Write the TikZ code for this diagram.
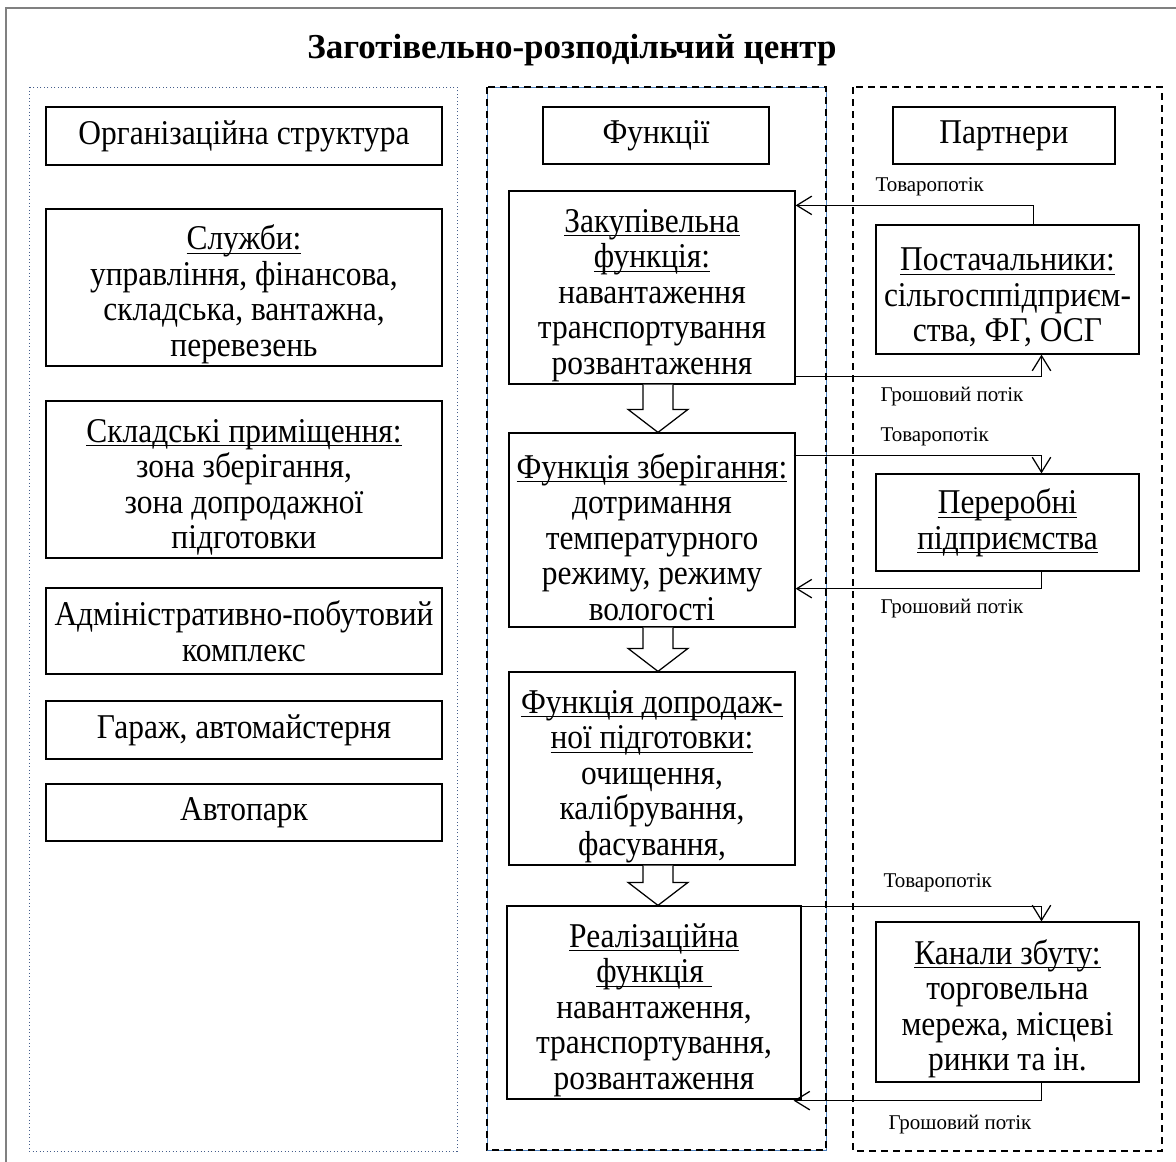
\documentclass[tikz,border=0pt]{standalone}
\usepackage{fontspec}
\setmainfont{Liberation Serif}
\newfontfamily\boxfont{Liberation Serif}[FakeStretch=0.905]
\usetikzlibrary{arrows.meta,calc}
\def\px{0.4pt}
\newcommand\ul[1]{\underline{\vphantom{A}\smash{#1}}}
\newcommand\tstrut{\rule{0pt}{15.5pt}}
\tikzset{
  box/.style={draw, line width=0.5pt, inner sep=0pt, align=center,
    font=\boxfont\fontsize{13.9}{14.2}\selectfont},
  flowlbl/.style={anchor=west, inner sep=0pt, font=\fontsize{8.4}{9}\selectfont},
  hollow/.style={draw, line width=0.5pt, fill=white, line join=miter},
  flow/.style={->, line width=0.5pt},
}
\begin{document}
\begin{tikzpicture}[x=0.4pt, y=-0.4pt,
    >={Straight Barb[length=6pt,width=7.4pt,line width=0.5pt]}]
  \useasboundingbox (0,0) rectangle (1176,1162);
  % рамка
  \draw[gray, line width=0.8pt] (6,1170) -- (6,8) -- (1180,8);
  \node[font=\fontsize{14}{16}\selectfont\bfseries] (title) at (572,50) {Заготівельно-розподільчий центр};
  % три колонки
  \draw[densely dotted, color={rgb,255:red,70;green,95;blue,140}, line width=0.4pt] (29,87) rectangle (457,1151);
  \draw[color={rgb,255:red,79;green,129;blue,189}, line width=0.4pt] (487,87) rectangle (826,1150);
  \draw[dash pattern=on 2.8pt off 2pt, line width=0.8pt] (487,87) rectangle (826,1150);
  \draw[dash pattern=on 2.8pt off 2pt, line width=0.7pt] (853,87) rectangle (1162,1151);

  % організаційна структура
  \node[box, minimum width=396*\px, minimum height=58*\px] (org) at (244,136) {Організаційна структура};
  \node[box, minimum width=396*\px, minimum height=157*\px] (sluzh) at (244,287.5)
    {\tstrut\ul{Служби:}\\управління, фінансова,\\складська, вантажна,\\перевезень};
  \node[box, minimum width=396*\px, minimum height=157*\px] (sklad) at (244,479.5)
    {\tstrut\ul{Складські приміщення:}\\зона зберігання,\\зона допродажної\\підготовки};
  \node[box, minimum width=396*\px, minimum height=86*\px] (admin) at (244,631)
    {Адміністративно-побутовий\\комплекс};
  \node[box, minimum width=396*\px, minimum height=58*\px] (garazh) at (244,730) {Гараж, автомайстерня};
  \node[box, minimum width=396*\px, minimum height=57*\px] (avto) at (244,812.5) {Автопарк};

  % функції
  \node[box, minimum width=226*\px, minimum height=57*\px] (funk) at (656,135.5) {Функції};
  \node[box, minimum width=286*\px, minimum height=193*\px] (zak) at (652,287.5)
    {\tstrut\ul{Закупівельна}\\\ul{функція:}\\навантаження\\транспортування\\розвантаження};
  \node[box, minimum width=286*\px, minimum height=194*\px] (zber) at (652,530)
    {\tstrut\ul{Функція зберігання:}\\дотримання\\температурного\\режиму, режиму\\вологості};
  \node[box, minimum width=286*\px, minimum height=193*\px] (dopr) at (652,768.5)
    {\tstrut\ul{Функція допродаж-}\\\ul{ної підготовки:}\\очищення,\\калібрування,\\фасування,};
  \node[box, minimum width=294*\px, minimum height=193*\px] (real) at (654,1002.5)
    {\tstrut\ul{Реалізаційна}\\\ul{функція\ }\\навантаження,\\транспортування,\\розвантаження};
  \foreach \a/\b in {zak/zber,zber/dopr,dopr/real}{
    \coordinate (s) at ($(\a.south)+(6,0)$);
    \coordinate (t) at (s |- \b.north);
    \draw[hollow] ($(s)+(-15,0)$) -- ($(t)+(-15,-23)$) -- ($(t)+(-30,-23)$) -- (t)
      -- ($(t)+(30,-23)$) -- ($(t)+(15,-23)$) -- ($(s)+(15,0)$);
  }

  % партнери
  \node[box, minimum width=222*\px, minimum height=57*\px] (partn) at (1004,135.5) {Партнери};
  \node[box, minimum width=263*\px, minimum height=129*\px] (post) at (1007.5,289.5)
    {\tstrut\ul{Постачальники:}\\сільгосппідприєм-\\ства, ФГ, ОСГ};
  \node[box, minimum width=263*\px, minimum height=97*\px] (perer) at (1007.5,522.5)
    {\ul{Переробні}\\\ul{підприємства}};
  \node[box, minimum width=263*\px, minimum height=160*\px] (kanal) at (1007.5,1002)
    {\tstrut\ul{Канали збуту:}\\торговельна\\мережа, місцеві\\ринки та ін.};

  % потоки
  \draw[flow] ($(post.north)+(26,0)$) |- ($(zak.north east)+(0,15)$);
  \draw[flow] ($(zak.south east)+(0,-8)$) -| ($(post.south)+(34,0)$);
  \draw[flow] ($(zber.north east)+(-2,23)$) -| ($(perer.north)+(34,0)$);
  \draw[flow] ($(perer.south)+(34,0)$) |- ($(zber.south east)+(0,-39)$);
  \draw[flow] ($(real.north east)+(-8,1)$) -| ($(kanal.north)+(34,0)$);
  \draw[flow] ($(kanal.south)+(34,0)$) |- ($(real.south east)+(-8,1)$);
  \node[flowlbl] (t1) at (875,187) {Товаропотік};
  \node[flowlbl] (g1) at (880,397) {Грошовий потік};
  \node[flowlbl] (t2) at (880,437) {Товаропотік};
  \node[flowlbl] (g2) at (880,609) {Грошовий потік};
  \node[flowlbl] (t3) at (883,883) {Товаропотік};
  \node[flowlbl] (g3) at (888,1125) {Грошовий потік};
\end{tikzpicture}
\end{document}
